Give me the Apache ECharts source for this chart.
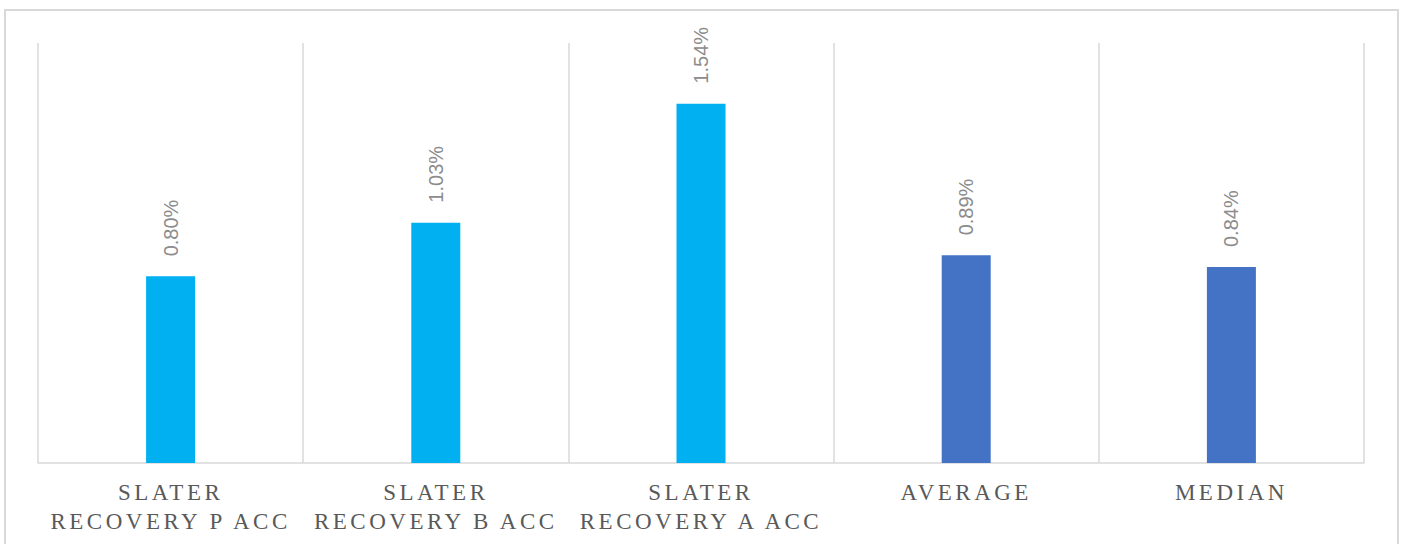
<!DOCTYPE html>
<html>
<head>
<meta charset="utf-8">
<style>
  html, body { margin: 0; padding: 0; background: #ffffff; }
  #chart { width: 1404px; height: 544px; }
  #chart svg text[style*="Liberation Serif"] { letter-spacing: 3.5px; }
</style>
<script src="https://cdn.jsdelivr.net/npm/echarts@6/dist/echarts.min.js"></script>
</head>
<body>
<div id="chart"></div>
<script>
var categories = ['SLATER\nRECOVERY P ACC', 'SLATER\nRECOVERY B ACC', 'SLATER\nRECOVERY A ACC', 'AVERAGE', 'MEDIAN'];
var values = [0.80, 1.03, 1.54, 0.89, 0.84];
var barColors = ['#00B0F0', '#00B0F0', '#00B0F0', '#4472C4', '#4472C4'];

var chart = echarts.init(document.getElementById('chart'), null, { renderer: 'svg' });
chart.setOption({
  animation: false,
  backgroundColor: '#ffffff',
  graphic: [{
    type: 'rect',
    shape: { x: 5, y: 10, width: 1393, height: 600 },
    style: { fill: 'none', stroke: '#d9d9d9', lineWidth: 2 },
    silent: true
  }],
  grid: { left: 38, right: 40, top: 43, bottom: 81, containLabel: false },
  xAxis: {
    type: 'category',
    data: categories,
    boundaryGap: true,
    axisLine: { show: true, lineStyle: { color: '#d9d9d9', width: 1.5 } },
    axisTick: { show: false },
    splitLine: { show: true, lineStyle: { color: '#d9d9d9', width: 1.5 } },
    axisLabel: {
      interval: 0,
      margin: 15,
      color: '#595959',
      fontFamily: 'Liberation Serif',
      fontSize: 23,
      lineHeight: 29
    }
  },
  yAxis: {
    type: 'value',
    min: 0,
    max: 1.8,
    show: false,
    splitLine: { show: false }
  },
  series: [{
    type: 'bar',
    barWidth: 49,
    data: values.map(function (v, i) {
      return { value: v, itemStyle: { color: barColors[i] } };
    }),
    label: {
      show: true,
      position: 'top',
      rotate: 90,
      align: 'left',
      verticalAlign: 'middle',
      distance: 20,
      color: '#8c8c8c',
      fontFamily: 'Liberation Sans',
      fontSize: 20,
      formatter: function (p) { return p.value.toFixed(2) + '%'; }
    }
  }]
});
</script>
</body>
</html>
